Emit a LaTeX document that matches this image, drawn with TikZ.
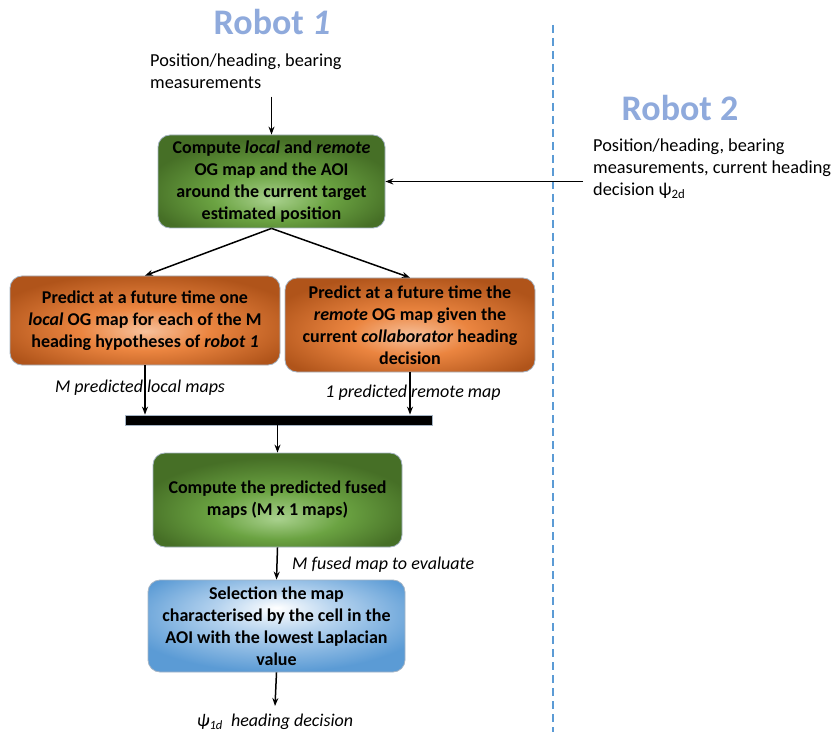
\documentclass[tikz,border=0pt]{standalone}
\usepackage{fontspec}
\setmainfont{Carlito}
\usepackage{xcolor}
\usepackage{tikz}
\usetikzlibrary{arrows.meta,positioning}

\definecolor{titleblue}{HTML}{8FAADC}
\definecolor{divblue}{HTML}{5B9BD5}
\definecolor{boxline}{HTML}{A5B4C4}
\definecolor{greenlight}{HTML}{A9D18E}
\definecolor{greenmid}{HTML}{6BA342}
\definecolor{greendark}{HTML}{466F26}
\definecolor{orangelight}{HTML}{F6C19C}
\definecolor{orangemid}{HTML}{EB8540}
\definecolor{orangedark}{HTML}{B0541A}
\definecolor{bluelight}{HTML}{FFFFFF}
\definecolor{bluemid}{HTML}{B4D2EE}
\definecolor{bluedark}{HTML}{5B9BD5}

\pgfdeclareradialshading{greenglow}{\pgfpoint{0bp}{-10bp}}{color(0bp)=(greenlight); color(13bp)=(greenmid); color(28bp)=(greendark); color(60bp)=(greendark)}
\pgfdeclareradialshading{orangeglow}{\pgfpoint{0bp}{-6bp}}{color(0bp)=(orangelight); color(12bp)=(orangemid); color(30bp)=(orangedark); color(60bp)=(orangedark)}
\pgfdeclareradialshading{blueglow}{\pgfpoint{0bp}{10bp}}{color(0bp)=(bluelight); color(12bp)=(bluemid); color(30bp)=(bluedark); color(60bp)=(bluedark)}

\begin{document}
\begin{tikzpicture}[
  x=1pt, y=-1pt,
  box/.style={rectangle, draw=boxline, line width=0.8pt, rounded corners=12pt, align=center, inner sep=2pt, font=\fontsize{18}{22}\selectfont\bfseries},
  greenbox/.style={box, shading=greenglow},
  orangebox/.style={box, shading=orangeglow},
  bluebox/.style={box, shading=blueglow},
  note/.style={align=left, inner sep=0pt, font=\fontsize{18.3}{22}\selectfont},
  maplabel/.style={inner sep=0pt, font=\fontsize{18}{22}\selectfont\itshape},
  robottitle/.style={text=titleblue, font=\fontsize{36}{40}\selectfont\bfseries},
  bar/.style={rectangle, fill=black, draw=boxline, line width=0.8pt, minimum width=307pt, minimum height=10pt, inner sep=0pt},
  arrow/.style={-{Stealth[length=8pt,width=6pt]}, line width=1.5pt}
]
\useasboundingbox (0,0) rectangle (835,735);

% robot 1 side
\node[robottitle] (r1) at (272,22) {Robot \textit{1}};
\node[note, anchor=west] (in1) at (150,71) {Position/heading, bearing\\measurements};
\node[greenbox, minimum width=227pt, minimum height=93pt] (local) at (271.5,181.5)
  {Compute \textit{local} and \textit{remote}\\OG map and the AOI\\around the current target\\estimated position};
\node[orangebox, minimum width=270pt, minimum height=89pt] (pl) at (145,320.5)
  {Predict at a future time one\\\textit{local} OG map for each of the M\\heading hypotheses of \textit{robot 1}};
\node[orangebox, minimum width=250pt, minimum height=94pt] (pr) at (410,325)
  {Predict at a future time the\\\textit{remote} OG map given the\\current \textit{collaborator} heading\\decision};
\node[bar] (bar) at (278.5,420) {};
\node[greenbox, minimum width=249pt, minimum height=94pt] (fused) at (277.5,500)
  {Compute the predicted fused\\maps (M x 1 maps)};
\node[bluebox, minimum width=257pt, minimum height=92pt] (select) at (276.5,626)
  {Selection the map\\characterised by the cell in the\\AOI with the lowest Laplacian\\value};
\node[maplabel] (dec) at (275,722) {ψ\textsubscript{1d}\ \ heading decision};

% labels on the arrows
\node[maplabel] (lbl1) at (140,388) {M predicted local maps};
\node[maplabel] (lbl2) at (413,393) {1 predicted remote map};
\node[maplabel, anchor=west] (lbl3) at (292,565) {M fused map to evaluate};

% robot 2 side
\draw[divblue, line width=1.2pt, dash pattern=on 8pt off 5pt] (553,25) -- (553,732);
\node[robottitle] (r2) at (680,108) {Robot 2};
\node[note, anchor=west] (in2) at (593,169) {Position/heading, bearing\\measurements, current heading\\decision ψ\textsubscript{2d}};

% arrows
\draw[arrow] (local.north |- in1.south) ++(0,8) -- (local.north);
\draw[arrow] ([xshift=-10pt]in2.west |- local.east) -- (local.east);
\draw[arrow] (local.south) -- (pl.north);
\draw[arrow] (local.south) -- (pr.north);
\draw[arrow] (pl.south) -- (pl.south |- bar.north);
\draw[arrow] (pr.south) -- (pr.south |- bar.north);
\draw[arrow] (fused.north |- bar.south) -- (fused.north);
\draw[arrow] (fused.south) -- (select.north);
\draw[arrow] (select.south) -- ([yshift=8pt]dec.north);
\end{tikzpicture}
\end{document}
